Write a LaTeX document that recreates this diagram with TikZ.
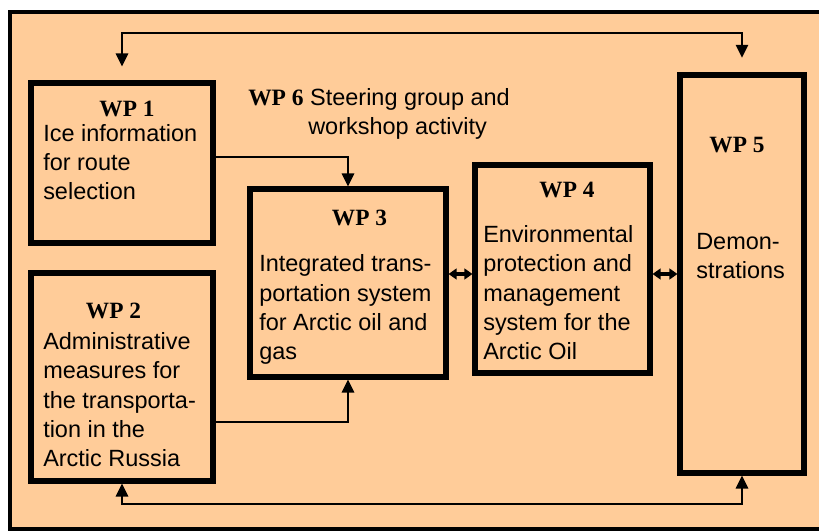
\documentclass[tikz,border=0pt]{standalone}
\usepackage{fontspec}
\setmainfont{Liberation Sans}
\newfontfamily\wpserif{Liberation Serif}
\usetikzlibrary{arrows.meta,calc}
\definecolor{peach}{HTML}{FFCC99}
\begin{document}
\begin{tikzpicture}[x=0.75pt,y=-0.75pt,
  wpbox/.style={draw=black, line width=3.8pt, rectangle, inner sep=0pt},
  body/.style={anchor=base west, inner sep=0pt, align=left, font=\fontsize{17.6pt}{22.1pt}\selectfont},
  wptitle/.style={anchor=base, inner sep=0pt, font=\wpserif\bfseries\fontsize{17.5pt}{21pt}\selectfont},
  conn/.style={line width=2pt, -{Triangle[length=9.75pt,width=9pt]}},
  bigboth/.style={line width=2pt, {Triangle[length=9.75pt,width=9pt]}-{Triangle[length=9.75pt,width=9pt]}},
  smallboth/.style={line width=2.4pt, {Triangle[length=6pt,width=8pt]}-{Triangle[length=6pt,width=8pt]}}]
\clip (0,0) rectangle (819,531);
\draw[line width=3pt, fill=peach] (10,12) rectangle (840,529);

% boxes
\node[wpbox, minimum width=136.5pt, minimum height=120pt] (wp1) at (122,163) {};
\node[wpbox, minimum width=136.5pt, minimum height=156pt] (wp2) at (122,377) {};
\node[wpbox, minimum width=147pt, minimum height=141pt] (wp3) at (348,283) {};
\node[wpbox, minimum width=131.25pt, minimum height=156pt] (wp4) at (562.5,269) {};
\node[wpbox, minimum width=93pt, minimum height=298.5pt] (wp5) at (742,274) {};

% titles
\node[wptitle] (t1) at (127,117) {WP 1};
\node[wptitle] (t2) at (113.5,319) {WP 2};
\node[wptitle] (t3) at (359.5,226) {WP 3};
\node[wptitle] (t4) at (567,198) {WP 4};
\node[wptitle] (t5) at (737,153) {WP 5};

% bodies (base anchor = baseline of last line)
\node[body] (b1) at (43,200) {Ice information\\for route\\selection};
\node[body] (b2) at (43,467) {Administrative\\measures for\\the transporta-\\tion in the\\Arctic Russia};
\node[body] (b3) at (259,360) {Integrated trans-\\portation system\\for Arctic oil and\\gas};
\node[body] (b4) at (483,360) {Environmental\\protection and\\management\\system for the\\Arctic Oil};
\node[body] (b5) at (696,279) {Demon-\\strations};
\node[body] (b6) at (248,135) {{\wpserif\bfseries WP 6} Steering group and\\\hspace*{45pt}workshop activity};

% connectors
\coordinate (topy) at (430,33);
\coordinate (boty) at (430,504);
\coordinate (midy) at (0,274);
\draw[bigboth, shorten <=10.5pt, shorten >=11pt] (wp1.north) |- (topy) -| (wp5.north);
\draw[bigboth] (wp2.south) |- (boty) -| (wp5.south);
\draw[conn] ($(wp1.east)+(0,-6)$) -| (wp3.north);
\draw[conn] ($(wp2.east)+(0,45)$) -| (wp3.south);
\draw[smallboth] (wp3.east |- midy) -- (wp4.west |- midy);
\draw[smallboth] (wp4.east |- midy) -- (wp5.west |- midy);
\end{tikzpicture}
\end{document}
